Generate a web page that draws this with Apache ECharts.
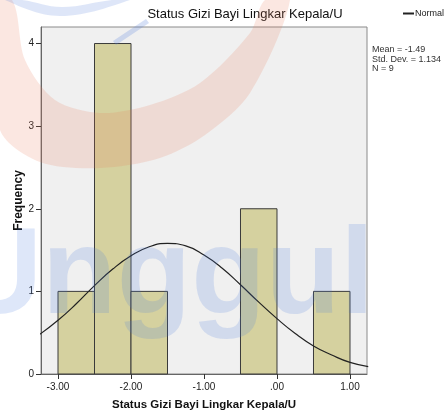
<!DOCTYPE html>
<html>
<head>
<meta charset="utf-8">
<script src="https://cdn.jsdelivr.net/npm/echarts@6/dist/echarts.min.js"></script>
<style>
  html, body { margin: 0; padding: 0; background: #fff; }
  #chart { width: 446px; height: 419px; }
</style>
</head>
<body>
<div id="chart"></div>
<script>
// histogram bins (start, end) and counts
const binStart = [-3.0, -2.5, -2.0, -0.5, 0.5];
const binEnd = [-2.5, -2.0, -1.5, 0.0, 1.0];
const binCount = [1, 4, 1, 2, 1];

// normal curve
const curveX = [-3.25, -3.0, -2.75, -2.5, -2.25, -2.0, -1.75, -1.5, -1.25, -1.0, -0.75, -0.5, -0.25, 0.0, 0.25, 0.5, 0.75, 1.0, 1.25];
const curveY = [0.48, 0.65, 0.85, 1.07, 1.27, 1.43, 1.54, 1.58, 1.55, 1.44, 1.28, 1.08, 0.87, 0.67, 0.49, 0.34, 0.23, 0.14, 0.09];

const xTicks = [-3, -2, -1, 0, 1];
const yTicks = [0, 1, 2, 3, 4];
const stats = ['Mean = -1.49', 'Std. Dev. = 1.134', 'N = 9'];

const font = 'Liberation Sans, Arial, sans-serif';
const chart = echarts.init(document.getElementById('chart'));

function fmtX(v) {
  const s = Number(v).toFixed(2);
  return s === '0.00' ? '.00' : s;
}

chart.setOption({
  animation: false,
  textStyle: { fontFamily: font },
  title: {
    text: 'Status Gizi Bayi Lingkar Kepala/U',
    left: 245, top: 8, textAlign: 'center', padding: 0,
    textStyle: { fontSize: 13, fontWeight: 'normal', color: '#111', fontFamily: font }
  },
  legend: {
    right: 2, top: 9, padding: 0,
    itemWidth: 11, itemHeight: 2, itemGap: 1,
    textStyle: { fontSize: 9, color: '#222', fontFamily: font, padding: [0, 0, 0, -4] },
    data: [{ name: 'Normal', icon: 'rect' }]
  },
  grid: {
    left: 41, right: 79, top: 27, bottom: 45, outerBoundsMode: 'none', containLabel: false,
    show: true, backgroundColor: '#f0f0f0', borderColor: '#8a8a8a', borderWidth: 1
  },
  xAxis: {
    type: 'value', min: -3.233, max: 1.233,
    name: 'Status Gizi Bayi Lingkar Kepala/U', nameLocation: 'middle', nameGap: 25, nameMoveOverlap: false,
    nameTextStyle: { fontSize: 11.5, fontWeight: 'bold', color: '#111', fontFamily: font },
    axisLine: { show: true, onZero: false, lineStyle: { color: '#666' } },
    axisTick: { show: true, length: 5, customValues: xTicks, lineStyle: { color: '#333' } },
    axisLabel: { customValues: xTicks, fontSize: 10, color: '#222', margin: 8, formatter: fmtX },
    splitLine: { show: false }
  },
  yAxis: {
    type: 'value', min: 0, max: 4.2,
    name: 'Frequency', nameLocation: 'middle', nameGap: 16, nameMoveOverlap: false,
    nameTextStyle: { fontSize: 12, fontWeight: 'bold', color: '#111', fontFamily: font },
    axisLine: { show: true, onZero: false, lineStyle: { color: '#666' } },
    axisTick: { show: true, length: 5, customValues: yTicks, lineStyle: { color: '#333' } },
    axisLabel: { customValues: yTicks, fontSize: 10, color: '#222', margin: 7 },
    splitLine: { show: false }
  },
  series: [
    {
      type: 'custom',
      name: 'Frequency',
      data: binCount.map((c, i) => [binStart[i], binEnd[i], c]),
      encode: { x: [0, 1], y: 2 },
      renderItem: function (params, api) {
        const p0 = api.coord([api.value(0), api.value(2)]);
        const p1 = api.coord([api.value(1), 0]);
        return {
          type: 'rect',
          shape: { x: p0[0], y: p0[1], width: p1[0] - p0[0], height: p1[1] - p0[1] },
          style: { fill: '#d5d19f', stroke: '#3a3a3a', lineWidth: 1 }
        };
      }
    },
    {
      type: 'line',
      name: 'Normal',
      data: curveX.map((x, i) => [x, curveY[i]]),
      smooth: true,
      symbol: 'none',
      clip: true,
      lineStyle: { color: '#222', width: 1.2 },
      itemStyle: { color: '#222' },
      z: 5
    }
  ],
  graphic: [
    {
      type: 'text', left: 372, top: 45, silent: true,
      style: { text: stats.join('\n'), lineHeight: 9.5, fill: '#333', font: '9px ' + font }
    },
    // watermark: red crescent
    {
      type: 'polygon', silent: true, z: 100,
      shape: {
        smooth: 0.3,
        points: [[-15, 0], [0, 130], [40, 162], [100, 168], [160, 158], [205, 135], [250, 93], [290, 0],
                 [265, 0], [250, 33], [200, 83], [150, 105], [100, 113], [55, 100], [25, 60], [12, 0]]
      },
      style: { fill: 'rgba(235,120,90,0.18)' }
    },
    // watermark: blue arc
    {
      type: 'polygon', silent: true, z: 100,
      shape: { smooth: 0.4, points: [[5, 0], [60, 16], [130, 0], [112, 0], [62, 7], [22, 0]] },
      style: { fill: 'rgba(90,130,220,0.2)' }
    },
    {
      type: 'polygon', silent: true, z: 100,
      shape: { points: [[113, 41], [146, 19], [149, 23], [116, 45]] },
      style: { fill: 'rgba(90,130,220,0.25)' }
    },
    // watermark: text
    {
      type: 'text', silent: true, z: 100,
      style: { text: 'Unggul', x: -46, y: 340, verticalAlign: 'bottom', font: 'bold 122px Liberation Sans, Arial, sans-serif', fill: 'rgba(70,120,220,0.18)' }
    }
  ]
});
</script>
</body>
</html>
